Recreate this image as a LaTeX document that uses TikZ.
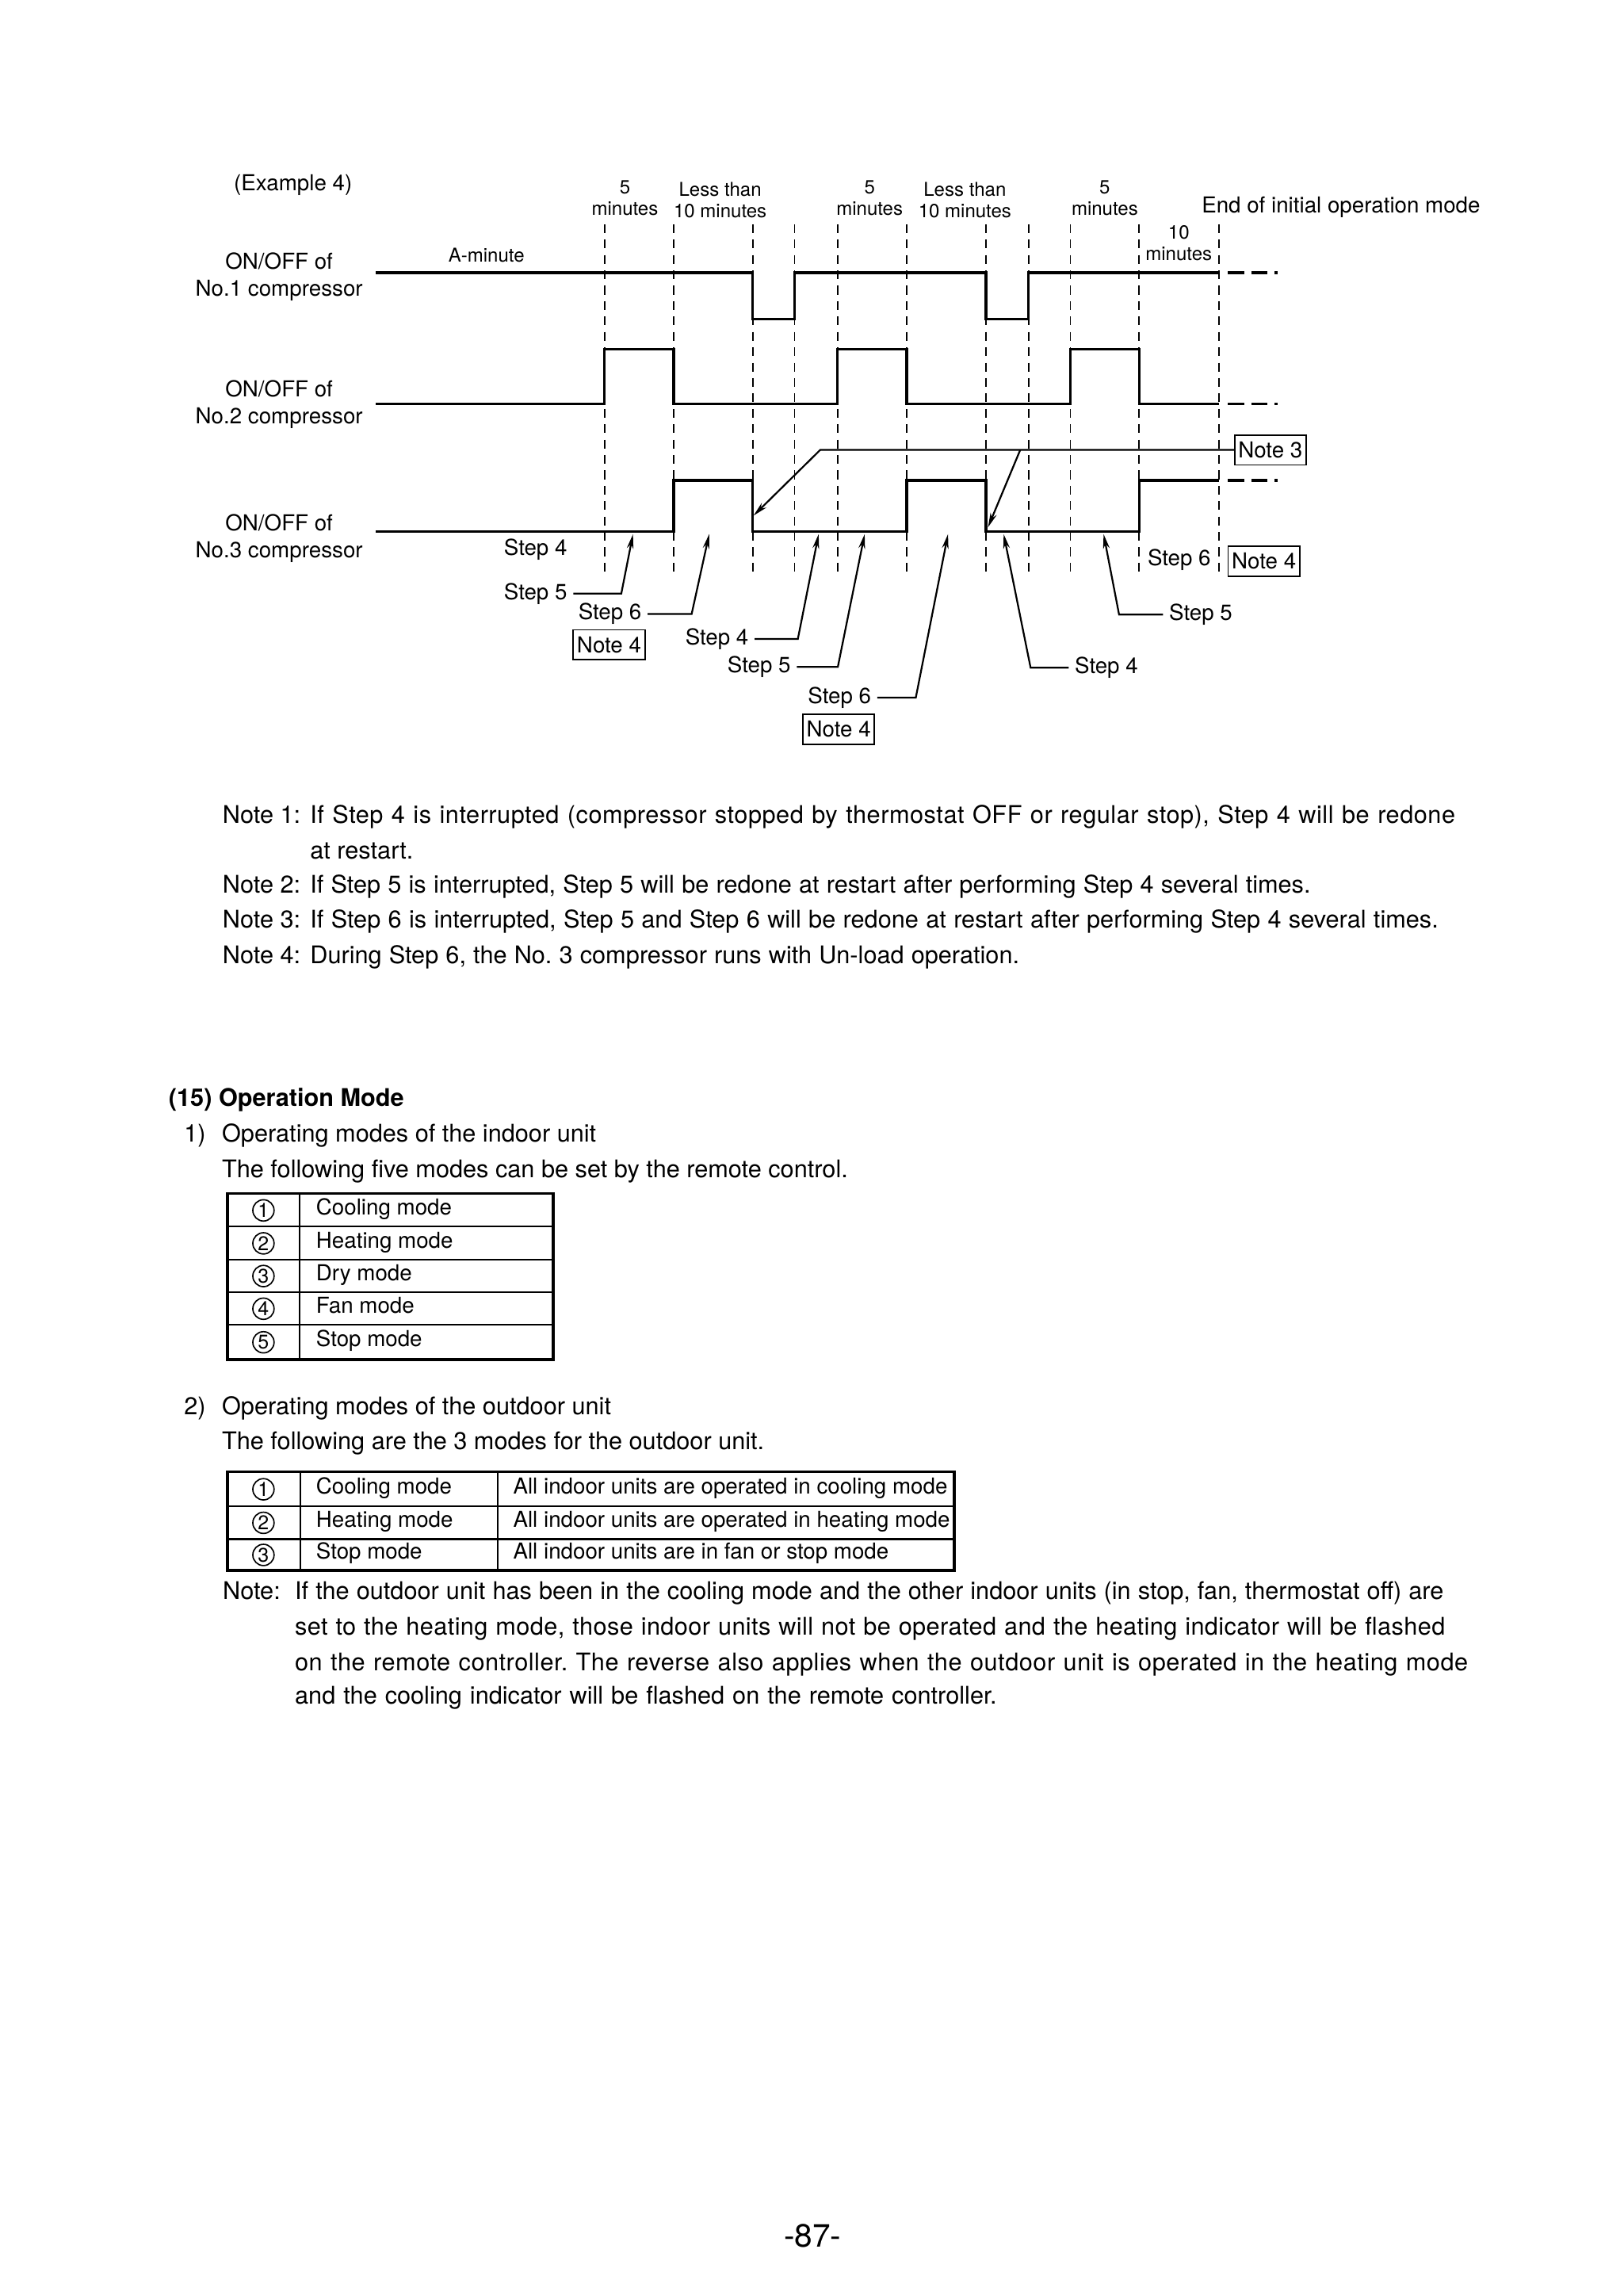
\documentclass[tikz,border=0pt]{standalone}
\usepackage{fontspec}
\setmainfont{TeX Gyre Heros}
\usetikzlibrary{arrows.meta}
\frenchspacing
\newcommand{\lsp}[1]{\addfontfeature{LetterSpace=#1}}
\begin{document}
\begin{tikzpicture}[x=1pt,y=-1pt,
  sig/.style={line width=1.8pt, line join=miter},
  vdash/.style={line width=1pt, dash pattern=on 6pt off 4.5pt},
  sigext/.style={line width=1.8pt, dash pattern=on 11pt off 5pt},
  conn/.style={line width=1.2pt, -{Stealth[length=10pt,width=4.5pt]}},
  lbl/.style={font=\fontsize{15}{18.5}\selectfont, inner sep=0pt},
  tlab/.style={font=\fontsize{13}{14.5}\selectfont, inner sep=0pt, align=center},
  steplbl/.style={font=\fontsize{15}{18}\selectfont, inner xsep=4pt, inner ysep=0pt},
  notebox/.style={draw, line width=1pt, font=\fontsize{15}{18}\selectfont, inner xsep=2.5pt, inner ysep=0pt, minimum height=20.5pt},
  bodytxt/.style={font=\fontsize{16.6}{20}\selectfont, inner sep=0pt, anchor=mid west},
  celltxt/.style={font=\fontsize{15}{18}\selectfont, inner sep=0pt, anchor=mid west},
  circd/.style={draw, circle, line width=0.9pt, minimum size=14.5pt, inner sep=0pt, font=\fontsize{13.5}{14}\selectfont},
  tblout/.style={line width=2pt},
  tblin/.style={line width=1.1pt},
]
\useasboundingbox (0,0) rectangle (1108,1566);

% ---------- timing diagram ----------
\foreach \x in {412.5,459.8,513.7,542.3,571.6,618.8,673,701.9,730.5,777.4,831.9}
  \draw[vdash] (\x,153) -- (\x,393);

\draw[sig] (256.5,186) -- (513.7,186) -- (513.7,217.6) -- (542.3,217.6) -- (542.3,186)
  -- (673,186) -- (673,217.6) -- (701.9,217.6) -- (701.9,186) -- (831.9,186);
\draw[sigext] (838,186) -- (872,186);

\draw[sig] (256.5,275.5) -- (412.5,275.5) -- (412.5,238.3) -- (459.8,238.3) -- (459.8,275.5)
  -- (571.6,275.5) -- (571.6,238.3) -- (618.8,238.3) -- (618.8,275.5) -- (730.5,275.5)
  -- (730.5,238.3) -- (777.4,238.3) -- (777.4,275.5) -- (831.9,275.5);
\draw[sigext] (838,275.5) -- (872,275.5);

\draw[sig] (256.5,362.6) -- (459.8,362.6) -- (459.8,327.8) -- (513.7,327.8) -- (513.7,362.6)
  -- (618.8,362.6) -- (618.8,327.8) -- (673,327.8) -- (673,362.6) -- (777.4,362.6)
  -- (777.4,327.8) -- (831.9,327.8);
\draw[sigext] (838,327.8) -- (872,327.8);

\node[lbl] (ex) at (200,126) {(Example 4)};
\node[lbl, align=center] (c1) at (190.5,189) {ON/OFF of\\No.1 compressor};
\node[lbl, align=center] (c2) at (190.5,276) {ON/OFF of\\No.2 compressor};
\node[lbl, align=center] (c3) at (190.5,367.5) {ON/OFF of\\No.3 compressor};

\node[tlab] (m1) at (426.5,135) {5\\minutes};
\node[tlab] (l1) at (491.5,136.5) {Less than\\10 minutes};
\node[tlab] (m2) at (593.5,135) {5\\minutes};
\node[tlab] (l2) at (658.5,136.5) {Less than\\10 minutes};
\node[tlab] (m3) at (754,135) {5\\minutes};
\node[lbl, anchor=mid west] (endm) at (820,142.5) {End of initial operation mode};
\node[tlab] (m4) at (804.5,166) {10\\minutes};
\node[tlab] (am) at (332,174) {A-minute};

\node[steplbl] (s4a) at (365.5,375) {Step 4};
\node[steplbl] (s5a) at (365.5,405) {Step 5};
\node[steplbl] (s6a) at (416.3,419) {Step 6};
\node[notebox] (n4a) at (415.7,440) {Note 4};
\node[steplbl] (s4b) at (489.3,436) {Step 4};
\node[steplbl] (s5b) at (518.1,455) {Step 5};
\node[steplbl] (s6b) at (573,476) {Step 6};
\node[notebox] (n4b) at (572.4,497.5) {Note 4};
\node[steplbl] (s4c) at (755.1,455.6) {Step 4};
\node[steplbl] (s5c) at (819.5,419.4) {Step 5};
\node[steplbl] (s6c) at (804.8,382) {Step 6};
\node[notebox] (n4c) at (862.6,383) {Note 4};
\node[notebox] (n3) at (867,307) {Note 3};

\coordinate (t1) at (432,364.5);
\coordinate (t2) at (484,364.5);
\coordinate (t3) at (558.7,364.5);
\coordinate (t4) at (590.1,364.5);
\coordinate (t5) at (647,364.5);
\coordinate (t6) at (685,364.5);
\coordinate (t7) at (753.2,364.5);
\coordinate (t8) at (514.3,351.8);
\coordinate (t9) at (674.3,359.8);
\coordinate (k8) at (559.8,307);
\coordinate (k9) at (696.3,307);

\draw[conn] (s5a.east) -- ++(32.8,0) -- (t1);
\draw[conn] (s6a.east) -- ++(30,0) -- (t2);
\draw[conn] (s4b.east) -- ++(29.5,0) -- (t3);
\draw[conn] (s5b.east) -- ++(28,0) -- (t4);
\draw[conn] (s6b.east) -- ++(26.3,0) -- (t5);
\draw[conn] (s4c.west) -- ++(-26,0) -- (t6);
\draw[conn] (s5c.west) -- ++(-30,0) -- (t7);
\draw[conn] (n3.west) -- (k8) -- (t8);
\draw[conn] (k9) -- (t9);

% ---------- notes ----------
\node[bodytxt] (n1a) at (151.8,559) {Note 1:};
\node[bodytxt] (n1b) at (211.5,559) {\lsp{1.7}\makebox[781.5pt][s]{If Step 4 is interrupted (compressor stopped by thermostat OFF or regular stop), Step 4 will be redone}};
\node[bodytxt] (n1c) at (211.5,583.5) {at restart.};
\node[bodytxt] (n2a) at (151.8,607) {Note 2:};
\node[bodytxt] (n2b) at (211.5,607) {\makebox[682.8pt][s]{If Step 5 is interrupted, Step 5 will be redone at restart after performing Step 4 several times.}};
\node[bodytxt] (n3a) at (151.8,630.8) {Note 3:};
\node[bodytxt] (n3b) at (211.5,630.8) {\makebox[770pt][s]{If Step 6 is interrupted, Step 5 and Step 6 will be redone at restart after performing Step 4 several times.}};
\node[bodytxt] (n4a1) at (151.8,654.8) {Note 4:};
\node[bodytxt] (n4b1) at (211.5,654.8) {\makebox[484pt][s]{During Step 6, the No. 3 compressor runs with Un-load operation.}};

% ---------- operation mode ----------
\node[bodytxt, font=\fontsize{16.6}{20}\selectfont\bfseries] (h15) at (115,752) {(15) Operation Mode};
\node[bodytxt] (i1) at (125.5,776.5) {1)};
\node[bodytxt] (i1t) at (151.3,776.5) {Operating modes of the indoor unit};
\node[bodytxt] (i1s) at (151.3,800.8) {The following five modes can be set by the remote control.};

\draw[tblin] (204.5,814.4) -- (204.5,927.5);
\foreach \y in {837,859.5,881.7,904.1} \draw[tblin] (155.3,\y) -- (377.7,\y);
\draw[tblout] (155.3,814.4) rectangle (377.7,927.5);
\node[circd] (a1) at (179.8,825.9) {1};
\node[circd] (a2) at (179.8,848.4) {2};
\node[circd] (a3) at (179.8,870.7) {3};
\node[circd] (a4) at (179.8,893) {4};
\node[circd] (a5) at (179.8,915.9) {5};
\node[celltxt] (b1) at (215.6,826.2) {Cooling mode};
\node[celltxt] (b2) at (215.6,848.8) {Heating mode};
\node[celltxt] (b3) at (215.6,871.1) {Dry mode};
\node[celltxt] (b4) at (215.6,893.4) {Fan mode};
\node[celltxt] (b5) at (215.6,916.3) {Stop mode};

\node[bodytxt] (i2) at (125.5,962.5) {2)};
\node[bodytxt] (i2t) at (151.3,962.5) {Operating modes of the outdoor unit};
\node[bodytxt] (i2s) at (151.3,986.7) {The following are the 3 modes for the outdoor unit.};

\draw[tblin] (205.1,1004.2) -- (205.1,1071.5);
\draw[tblin] (339.6,1004.2) -- (339.6,1071.5);
\foreach \y in {1027.8,1050.2} \draw[tblin] (155.3,\y) -- (651.2,\y);
\draw[tblout] (155.3,1004.2) rectangle (651.2,1071.5);
\node[circd] (d1) at (179.8,1016.2) {1};
\node[circd] (d2) at (179.8,1039.1) {2};
\node[circd] (d3) at (179.8,1061) {3};
\node[celltxt] (e1) at (215.6,1016.5) {Cooling mode};
\node[celltxt] (e2) at (215.6,1039.4) {Heating mode};
\node[celltxt] (e3) at (215.6,1061.3) {Stop mode};
\node[celltxt] (f1) at (350.1,1016.5) {All indoor units are operated in cooling mode};
\node[celltxt] (f2) at (350.1,1039.4) {All indoor units are operated in heating mode};
\node[celltxt] (f3) at (350.1,1061.3) {All indoor units are in fan or stop mode};

\node[bodytxt] (nt) at (151.9,1088.5) {Note:};
\node[bodytxt] (nt1) at (201.1,1088.5) {\makebox[784pt][s]{If the outdoor unit has been in the cooling mode and the other indoor units (in stop, fan, thermostat off) are}};
\node[bodytxt] (nt2) at (201.1,1113.2) {\lsp{1.3}\makebox[785pt][s]{set to the heating mode, those indoor units will not be operated and the heating indicator will be flashed}};
\node[bodytxt] (nt3) at (201.1,1137.2) {\lsp{1.7}\makebox[800.6pt][s]{on the remote controller. The reverse also applies when the outdoor unit is operated in the heating mode}};
\node[bodytxt] (nt4) at (201.1,1160) {\makebox[479pt][s]{and the cooling indicator will be flashed on the remote controller.}};

\node[font=\fontsize{22}{24}\selectfont, inner sep=0pt] (pg) at (554.6,1525.7) {-87-};
\end{tikzpicture}
\end{document}
